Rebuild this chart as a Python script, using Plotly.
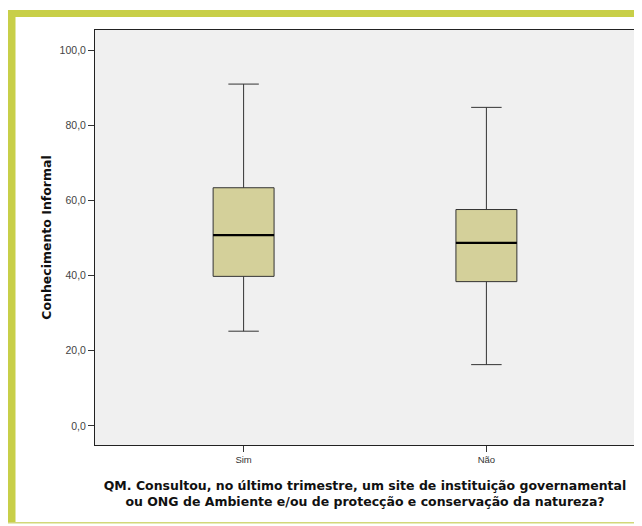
import plotly.graph_objects as go

categories = ["Sim", "Não"]
lower_whisker = [25.2, 16.3]
q1 = [39.8, 38.4]
median = [50.8, 48.7]
q3 = [63.4, 57.6]
upper_whisker = [91.0, 84.8]
y_ticks = [0, 20, 40, 60, 80, 100]

BOX_HALF = 0.1255

# the page body adds an 8px offset; everything below is laid out in page pixels minus OFF
OFF = 8
FIG_W, FIG_H = 642 - OFF, 526 - OFF
L, T, W, H = 95 - OFF, 30 - OFF, 540, 415

fig = go.Figure()
fig.add_trace(go.Box(
    x=categories,
    lowerfence=lower_whisker,
    q1=q1,
    median=median,
    q3=q3,
    upperfence=upper_whisker,
    fillcolor="#d4d09a",
    line=dict(color="#333333", width=1),
    width=2 * BOX_HALF,
    whiskerwidth=0.5,
    boxpoints=False,
    showlegend=False,
    hoverinfo="skip",
))

shapes = []
for i, m in enumerate(median):
    shapes.append(dict(type="line", xref="x", yref="y",
                       x0=i - BOX_HALF, x1=i + BOX_HALF, y0=m, y1=m,
                       line=dict(color="#000000", width=2.2)))

def px(xp):
    return (xp - OFF - L) / W
def py(yp):
    return (T + H - (yp - OFF)) / H

green = "#c8cf48"
shapes += [
    dict(type="rect", xref="paper", yref="paper", x0=px(7.5), x1=px(650), y0=py(17), y1=py(10),
         fillcolor=green, line=dict(width=0), layer="below"),
    dict(type="rect", xref="paper", yref="paper", x0=px(7.5), x1=px(15.5), y0=py(523), y1=py(10),
         fillcolor=green, line=dict(width=0), layer="below"),
    dict(type="rect", xref="paper", yref="paper", x0=px(7.5), x1=px(650), y0=py(523.5), y1=py(522),
         fillcolor="#d2d87a", line=dict(width=0), layer="below"),
]

fig.update_layout(
    width=FIG_W, height=FIG_H,
    margin=dict(l=L, r=FIG_W - L - W, t=T, b=FIG_H - T - H),
    paper_bgcolor="white",
    plot_bgcolor="#f0f0f0",
    separators=", ",
    font=dict(family="Liberation Sans, Arial, sans-serif", color="#222"),
    shapes=shapes,
    xaxis=dict(
        type="category",
        range=[-0.612, 1.612],
        showgrid=False, zeroline=False,
        showline=True, mirror=True, linecolor="#222", linewidth=1,
        ticks="outside", ticklen=6, tickcolor="#333", tickwidth=1,
        tickfont=dict(size=9.5, color="#333"),
        title=dict(
            text="<b>QM. Consultou, no último trimestre, um site de instituição governamental<br>ou ONG de Ambiente e/ou de protecção e conservação da natureza?</b>",
            font=dict(family="DejaVu Sans, Verdana, sans-serif", size=12.5, color="#111"),
            standoff=16,
        ),
    ),
    yaxis=dict(
        range=[-5.1, 105.4],
        tickvals=y_ticks,
        tickformat=".1f",
        showgrid=False, zeroline=False,
        showline=True, mirror=True, linecolor="#222", linewidth=1,
        ticks="outside", ticklen=6, tickcolor="#333", tickwidth=1,
        tickfont=dict(size=10.5, color="#444"),
        title=dict(text="<b>Conhecimento Informal</b>",
                   font=dict(family="DejaVu Sans, Verdana, sans-serif", size=12.5, color="#111"),
                   standoff=5),
    ),
)

fig.write_html("out.html")
